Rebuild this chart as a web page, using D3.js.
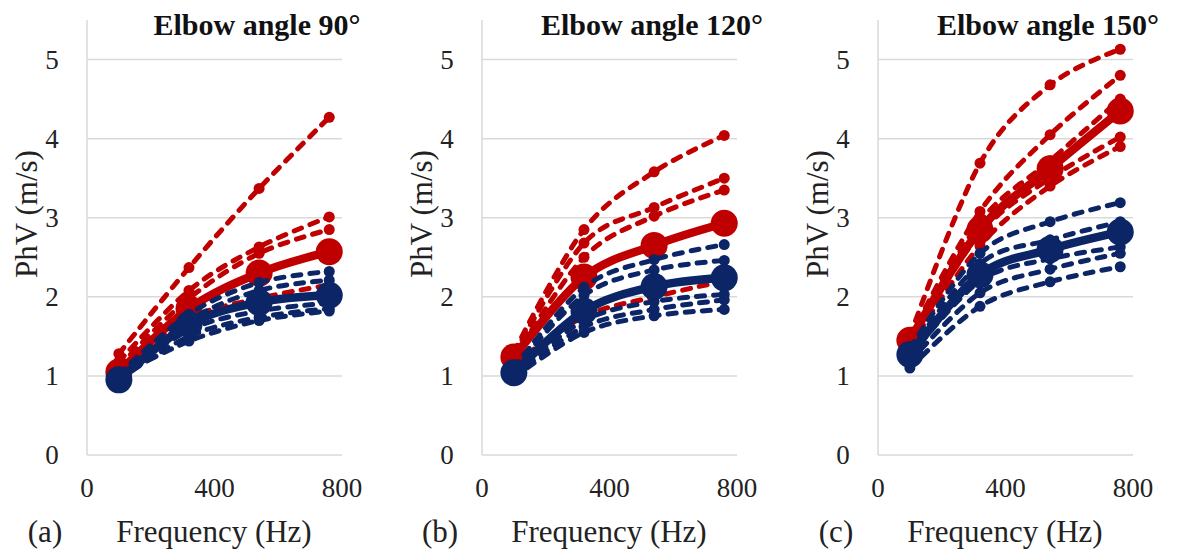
<!DOCTYPE html>
<html>
<head>
    <meta charset="utf-8">
    <title>PhV vs frequency</title>
    <script src="https://d3js.org/d3.v7.min.js"></script>
    <style> body { margin: 0px; background: #fff; } </style>
</head>
<body>
<svg width="1178" height="555"></svg>
<script>

    // frequencies (Hz) of the four measurements
    var freqs = [100, 320, 540, 760];
    var xTicks = [0, 400, 800];
    var yTicks = [0, 1, 2, 3, 4, 5];
    var panelTitles = ["Elbow angle 90°", "Elbow angle 120°", "Elbow angle 150°"];
    var panelLetters = ["(a)", "(b)", "(c)"];

    // elbow 90
    var redMeanA = [1.05, 1.85, 2.30, 2.57];
    var redSubjA = [
        [1.28, 2.37, 3.37, 4.27],
        [1.18, 2.08, 2.63, 3.01],
        [1.12, 1.98, 2.55, 2.85],
        [1.05, 1.72, 1.98, 2.15]
    ];
    var blueMeanA = [0.95, 1.65, 1.93, 2.02];
    var blueSubjA = [
        [1.02, 1.78, 2.18, 2.32],
        [0.98, 1.70, 2.08, 2.21],
        [0.97, 1.58, 1.82, 1.92],
        [0.95, 1.50, 1.74, 1.85],
        [1.00, 1.44, 1.70, 1.82]
    ];

    // elbow 120
    var redMeanB = [1.24, 2.25, 2.65, 2.93];
    var redSubjB = [
        [1.30, 2.85, 3.58, 4.04],
        [1.27, 2.68, 3.13, 3.50],
        [1.22, 2.50, 3.02, 3.35],
        [1.15, 1.75, 2.00, 2.20]
    ];
    var blueMeanB = [1.04, 1.82, 2.13, 2.24];
    var blueSubjB = [
        [1.10, 2.12, 2.47, 2.66],
        [1.08, 2.02, 2.34, 2.46],
        [1.02, 1.70, 1.94, 2.03],
        [1.00, 1.62, 1.84, 1.96],
        [0.98, 1.55, 1.76, 1.84]
    ];

    // elbow 150
    var redMeanC = [1.45, 2.85, 3.62, 4.35];
    var redSubjC = [
        [1.50, 3.69, 4.68, 5.13],
        [1.48, 3.08, 4.05, 4.80],
        [1.45, 2.95, 3.72, 4.50],
        [1.42, 2.80, 3.50, 4.02],
        [1.38, 2.65, 3.40, 3.90]
    ];
    var blueMeanC = [1.27, 2.28, 2.60, 2.82];
    var blueSubjC = [
        [1.35, 2.55, 2.95, 3.19],
        [1.30, 2.42, 2.72, 2.95],
        [1.25, 2.20, 2.48, 2.63],
        [1.18, 2.05, 2.35, 2.55],
        [1.10, 1.88, 2.19, 2.38]
    ];

    var panels = [
        {redMean: redMeanA, redSubj: redSubjA, blueMean: blueMeanA, blueSubj: blueSubjA},
        {redMean: redMeanB, redSubj: redSubjB, blueMean: blueMeanB, blueSubj: blueSubjB},
        {redMean: redMeanC, redSubj: redSubjC, blueMean: blueMeanC, blueSubj: blueSubjC}
    ];

    var red = "#c00000",
        blue = "#0b2566",
        grid = "#d9d9d9",
        serif = "Liberation Serif, Times New Roman, serif";

    var svg = d3.select("svg"),
        panelOffsets = [0, 395, 791],
        plotLeft = 87,
        plotW = 255,
        y0 = 455,
        yTop = 20;

    var y = d3.scaleLinear().domain([0, 5.5]).range([y0, yTop]);

    function label(g, x, yy, size, txt) {
        return g.append("text")
            .attr("x", x).attr("y", yy)
            .attr("text-anchor", "middle")
            .attr("font-family", serif)
            .attr("font-size", size)
            .attr("fill", "#222")
            .text(txt);
    }

    panels.forEach(function (p, i) {
        var left = plotLeft + panelOffsets[i];
        var x = d3.scaleLinear().domain([0, 800]).range([left, left + plotW]);
        var g = svg.append("g");

        // gridlines
        g.selectAll("line.grid").data(yTicks).enter().append("line")
            .attr("x1", left).attr("x2", left + plotW)
            .attr("y1", function (d) { return y(d); })
            .attr("y2", function (d) { return y(d); })
            .attr("stroke", grid).attr("stroke-width", 1.5);

        // vertical axis line
        g.append("line")
            .attr("x1", left).attr("x2", left)
            .attr("y1", y(5.5)).attr("y2", y(0))
            .attr("stroke", grid).attr("stroke-width", 1.5);

        // tick labels
        yTicks.forEach(function (d) {
            label(g, left - 35, y(d) + 9, 27, d);
        });
        xTicks.forEach(function (d) {
            label(g, x(d), 497, 27, d);
        });

        // titles
        label(g, left + 170, 35, 30, panelTitles[i])
            .attr("font-weight", "bold")
            .attr("fill", "#111");
        label(g, left + 127, 542, 31, "Frequency (Hz)");
        label(g, left - 42, 542, 31, panelLetters[i]);
        label(g, 0, 0, 31, "PhV (m/s)")
            .attr("transform", "translate(" + (left - 50) + ",214) rotate(-90)");

        var line = d3.line()
            .curve(d3.curveCardinal.tension(0))
            .x(function (d, j) { return x(freqs[j]); })
            .y(function (d) { return y(d); });

        function drawSubj(data, color) {
            data.forEach(function (s) {
                g.append("path").datum(s)
                    .attr("d", line)
                    .attr("fill", "none")
                    .attr("stroke", color)
                    .attr("stroke-width", 5)
                    .attr("stroke-linecap", "round")
                    .attr("stroke-dasharray", "8,9");
                g.selectAll(null).data(s).enter().append("circle")
                    .attr("cx", function (d, j) { return x(freqs[j]); })
                    .attr("cy", function (d) { return y(d); })
                    .attr("r", 5.5)
                    .attr("fill", color);
            });
        }

        function drawMean(s, color) {
            g.append("path").datum(s)
                .attr("d", line)
                .attr("fill", "none")
                .attr("stroke", color)
                .attr("stroke-width", 8.5);
            g.selectAll(null).data(s).enter().append("circle")
                .attr("cx", function (d, j) { return x(freqs[j]); })
                .attr("cy", function (d) { return y(d); })
                .attr("r", 13.5)
                .attr("fill", color);
        }

        drawSubj(p.redSubj, red);
        drawMean(p.redMean, red);
        drawSubj(p.blueSubj, blue);
        drawMean(p.blueMean, blue);
    });
</script>
</body>
</html>
